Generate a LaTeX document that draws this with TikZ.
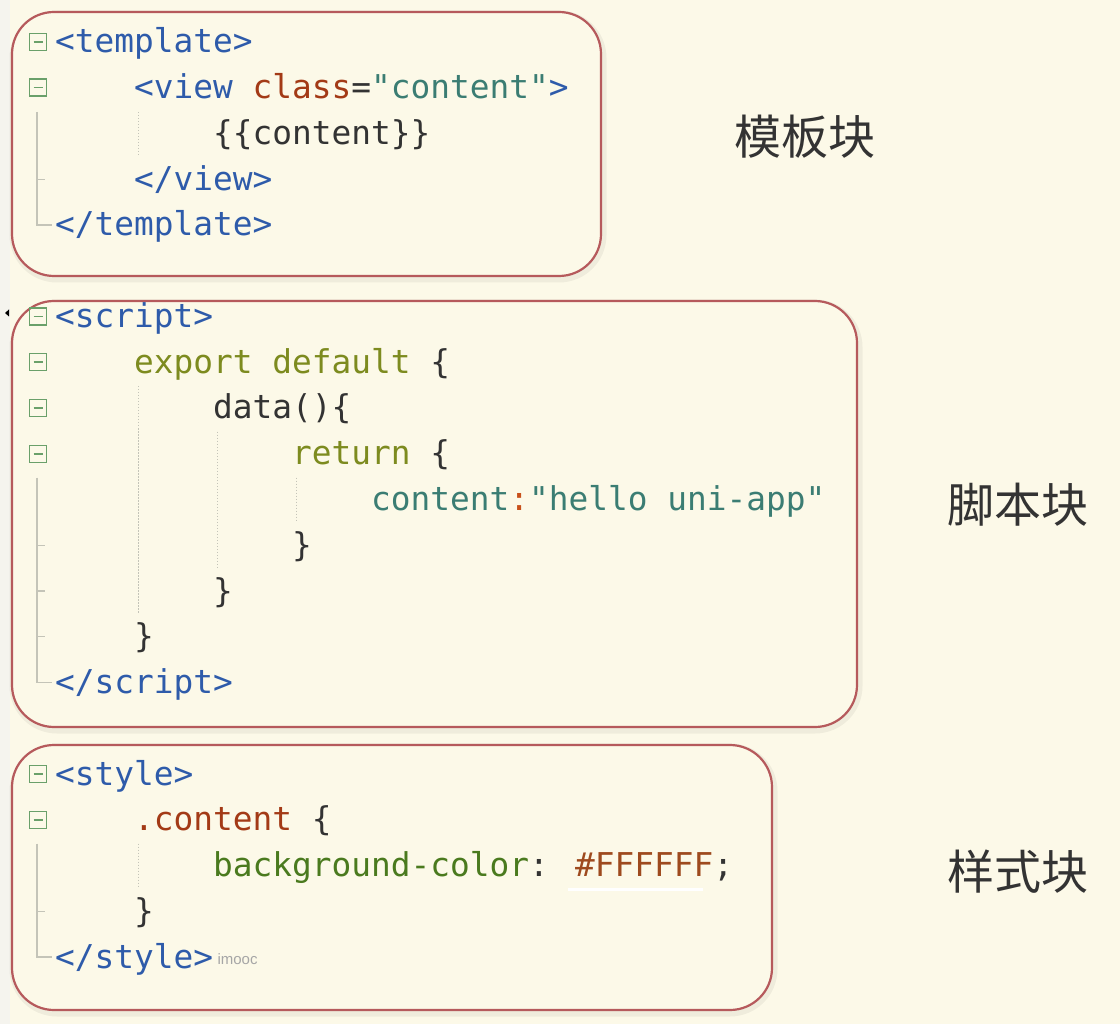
\documentclass[tikz,border=0pt]{standalone}
\usepackage{fontspec}
\usetikzlibrary{positioning}
\newfontfamily\codefont{DejaVu Sans Mono}
\newfontfamily\cjk{Noto Sans CJK SC}
\newfontfamily\markfont{Liberation Sans}
\definecolor{PaperColor}{HTML}{FCF9E8}
\definecolor{PaperLight}{HTML}{F5F4EE}
\definecolor{FrameRed}{HTML}{B65A5C}
\definecolor{FoldGreen}{HTML}{6AA06A}
\definecolor{GuideGray}{HTML}{C4C4B8}
\definecolor{CodeDark}{HTML}{333333}
\definecolor{TagBlue}{HTML}{2E5BAA}
\definecolor{AttrRed}{HTML}{A33A16}
\definecolor{StrTeal}{HTML}{3B7D73}
\definecolor{KeyOlive}{HTML}{7D8B1F}
\definecolor{PropGreen}{HTML}{4A7A1E}
\definecolor{ColonOrange}{HTML}{C8501A}
\definecolor{HexBrown}{HTML}{9E4A1E}

\begin{document}
\begin{tikzpicture}[x=1pt, y=-1pt,
	code/.style={anchor=base west, inner sep=0pt, text=CodeDark, font=\codefont\fontsize{32.8}{40}\selectfont},
	foldbox/.style={draw=FoldGreen, line width=1.5pt, minimum size=17pt, inner sep=0pt,
		path picture={\draw[FoldGreen, line width=1.5pt] ([xshift=-4.5pt]path picture bounding box.center) -- ([xshift=4.5pt]path picture bounding box.center);}},
	blockframe/.style={draw=FrameRed, line width=2.2pt, rounded corners=42pt, fill=PaperColor},
	blockshadow/.style={draw=black, line width=7pt, opacity=0.05, rounded corners=44pt},
	foldline/.style={draw=GuideGray, line width=1.3pt},
	indentguide/.style={draw=GuideGray, line width=1pt, dash pattern=on 1.5pt off 1.5pt},
	blocklabel/.style={inner sep=0pt, text=CodeDark, font=\cjk\fontsize{47}{50}\selectfont}]
	%%%%%%%%%%%%%%%%%%%%%%%%%%%%%%%%%%%%%%%%%%%%%%%%%%%%%%%%%%
	% paper
	\useasboundingbox (0,0) rectangle (1120,1024);
	\fill[PaperColor] (0,0) rectangle (1120,1024);
	\fill[PaperLight] (0,0) rectangle (10,1024);
	%%%%%%%%%%%%%%%%%%%%%%%%%%%%%%%%%%%%%%%%%%%%%%%%%%%%%%%%%%
	% block frames
	\draw[blockshadow] (13,14) rectangle (603,279);
	\draw[blockframe] (12,12) rectangle (601,276);
	\draw[blockshadow] (13,303) rectangle (859,730);
	\draw[blockframe] (12,301) rectangle (857,727);
	\draw[blockshadow] (13,747) rectangle (774,1013);
	\draw[blockframe] (12,745) rectangle (772,1010);
	
	% marker left of script
	\fill[black] (5,313) -- (9,309.5) -- (9,316.5) -- cycle;
	
	%%%%%%%%%%%%%%%%%%%%%%%%%%%%%%%%%%%%%%%%%%%%%%%%%%%%%%%%%%
	% template block
	\node[code] (tplOpen) at (55,53) {\textcolor{TagBlue}{<template>}};
	\node[code] (viewOpen) at (134,98.75) {\textcolor{TagBlue}{<view} \textcolor{AttrRed}{class}=\textcolor{StrTeal}{"content"}\textcolor{TagBlue}{>}};
	\node[code] (viewBody) at (213,144.5) {\{\{content\}\}};
	\node[code] (viewClose) at (134,190.25) {\textcolor{TagBlue}{</view>}};
	\node[code] (tplClose) at (55,236) {\textcolor{TagBlue}{</template>}};
	
	\node[foldbox] (foldTpl) at (38,42) {};
	\node[foldbox] (foldView) at (38,87.75) {};
	\draw[foldline] (37,112) |- (52,225);
	\draw[foldline] (37,179.25) -- (45,179.25);
	\draw[indentguide] (138,112) -- (138,156);
	
	%%%%%%%%%%%%%%%%%%%%%%%%%%%%%%%%%%%%%%%%%%%%%%%%%%%%%%%%%%
	% script block
	\node[code] (scriptOpen) at (55,327.5) {\textcolor{TagBlue}{<script>}};
	\node[code] (exportLine) at (134,373.25) {\textcolor{KeyOlive}{export default} \{};
	\node[code] (dataLine) at (213,419) {data()\{};
	\node[code] (returnLine) at (292,464.75) {\textcolor{KeyOlive}{return} \{};
	\node[code] (contentLine) at (371,510.5) {\textcolor{StrTeal}{content}\textcolor{ColonOrange}{:}\textcolor{StrTeal}{"hello uni-app"}};
	\node[code] (returnClose) at (292,556.25) {\}};
	\node[code] (dataClose) at (213,602) {\}};
	\node[code] (exportClose) at (134,647.75) {\}};
	\node[code] (scriptClose) at (55,693.5) {\textcolor{TagBlue}{</script>}};
	
	\node[foldbox] (foldScript) at (38,316.5) {};
	\node[foldbox] (foldExport) at (38,362.25) {};
	\node[foldbox] (foldData) at (38,408) {};
	\node[foldbox] (foldReturn) at (38,453.75) {};
	\draw[foldline] (37,477.5) |- (52,682.5);
	\draw[foldline] (37,545.25) -- (45,545.25);
	\draw[foldline] (37,591) -- (45,591);
	\draw[foldline] (37,636.75) -- (45,636.75);
	\draw[indentguide] (138,386) -- (138,613);
	\draw[indentguide] (217,431.75) -- (217,567.25);
	\draw[indentguide] (296,477.5) -- (296,521.5);
	
	%%%%%%%%%%%%%%%%%%%%%%%%%%%%%%%%%%%%%%%%%%%%%%%%%%%%%%%%%%
	% style block
	\node[code] (styleOpen) at (55,785) {\textcolor{TagBlue}{<style>}};
	\node[code] (selectorLine) at (134,830.75) {\textcolor{AttrRed}{.content} \{};
	\node[code] (ruleLine) at (213,876.5) {\textcolor{PropGreen}{background-color}: \textcolor{HexBrown}{\#FFFFFF};};
	\node[code] (selectorClose) at (134,922.25) {\}};
	\node[code] (styleClose) at (55,968) {\textcolor{TagBlue}{</style>}};
	
	\node[foldbox] (foldStyle) at (38,774) {};
	\node[foldbox] (foldSelector) at (38,819.75) {};
	\draw[foldline] (37,843.5) |- (52,957);
	\draw[foldline] (37,911.25) -- (45,911.25);
	\draw[indentguide] (138,843.5) -- (138,887.5);
	% hex underline
	\draw[white, line width=3pt] (568,889) -- (703,889);
	
	% watermark
	\node[inner sep=0pt, anchor=west, text=gray!70, font=\markfont\fontsize{15}{16}\selectfont, right=4pt of styleClose.east] (watermark) {imooc};
	
	%%%%%%%%%%%%%%%%%%%%%%%%%%%%%%%%%%%%%%%%%%%%%%%%%%%%%%%%%%
	% block labels
	\node[blocklabel] (tplLabel) at (805,137) {模板块};
	\node[blocklabel] (scriptLabel) at (1018,505) {脚本块};
	\node[blocklabel] (styleLabel) at (1018,872) {样式块};
	
\end{tikzpicture}
\end{document}
